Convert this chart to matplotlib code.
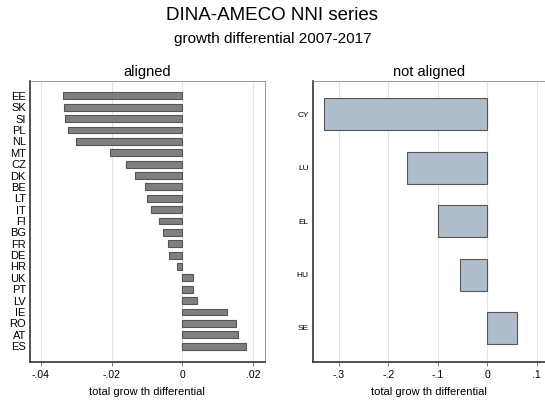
import matplotlib.pyplot as plt
import numpy as np

plt.rcParams['font.family'] = ['Liberation Sans', 'DejaVu Sans']

# aligned countries, total growth differential 2007-2017
aligned = ['EE', 'SK', 'SI', 'PL', 'NL', 'MT', 'CZ', 'DK', 'BE', 'LT', 'IT',
           'FI', 'BG', 'FR', 'DE', 'HR', 'UK', 'PT', 'LV', 'IE', 'RO', 'AT', 'ES']
aligned_vals = [-0.0337, -0.0336, -0.0331, -0.0322, -0.0301, -0.0204, -0.0160,
                -0.0134, -0.0105, -0.0101, -0.0087, -0.0066, -0.0054, -0.0039,
                -0.0036, -0.0016, 0.0030, 0.0031, 0.0043, 0.0126, 0.0152,
                0.0159, 0.0181]

not_aligned = ['CY', 'LU', 'EL', 'HU', 'SE']
not_aligned_vals = [-0.329, -0.162, -0.100, -0.056, 0.061]

left_ticks = [-0.04, -0.02, 0, 0.02]
left_ticklabels = ['-.04', '-.02', '0', '.02']
right_ticks = [-0.3, -0.2, -0.1, 0, 0.1]
right_ticklabels = ['-.3', '-.2', '-.1', '0', '.1']

fig = plt.figure(figsize=(5.45, 4.03), dpi=100)
ax1 = fig.add_axes([0.055, 0.1017, 0.431, 0.697])
ax2 = fig.add_axes([0.574, 0.1017, 0.426, 0.697])

grid_c = '#e4e4e4'
spine_c = '#333333'

y1 = np.arange(len(aligned))
ax1.barh(y1, aligned_vals, height=0.6, color='#808080', edgecolor='#555555',
         linewidth=0.8, zorder=3)
ax1.set_ylim(len(aligned) - 1 + 1.4, -1.3)
ax1.set_yticks(y1)
ax1.set_yticklabels(aligned, fontsize=8)
ax1.set_xlim(-0.0431, 0.0234)
ax1.set_xticks(left_ticks)
ax1.set_xticklabels(left_ticklabels, fontsize=7.5)
ax1.set_title('aligned', fontsize=10.5, pad=4)

y2 = np.arange(len(not_aligned))
ax2.barh(y2, not_aligned_vals, height=0.6, color='#b0bdca', edgecolor='#555555',
         linewidth=0.8, zorder=3)
ax2.set_ylim(len(not_aligned) - 1 + 0.64, -0.625)
ax2.set_yticks(y2)
ax2.set_yticklabels(not_aligned, fontsize=6)
ax2.set_xlim(-0.3525, 0.1168)
ax2.set_xticks(right_ticks)
ax2.set_xticklabels(right_ticklabels, fontsize=7.5)
ax2.set_title('not aligned', fontsize=10.5, pad=4)

for ax in (ax1, ax2):
    ax.grid(axis='x', color=grid_c, linewidth=0.8, zorder=0)
    ax.set_axisbelow(True)
    ax.tick_params(axis='y', length=0, pad=3)
    ax.tick_params(axis='x', length=3, width=0.6, color='#666666', pad=3)
    ax.set_xlabel('total grow th differential', fontsize=8, labelpad=5)
    for s in ax.spines.values():
        s.set_color('#888888')
        s.set_linewidth(0.6)
    ax.spines['left'].set_color(spine_c)
    ax.spines['bottom'].set_color(spine_c)
    ax.spines['left'].set_linewidth(1.2)
    ax.spines['bottom'].set_linewidth(1.2)

fig.text(0.5, 0.962, 'DINA-AMECO NNI series', ha='center', va='center', fontsize=13.5)
fig.text(0.5, 0.903, 'growth differential 2007-2017', ha='center', va='center', fontsize=11)

fig.savefig('out.png', dpi=100)
